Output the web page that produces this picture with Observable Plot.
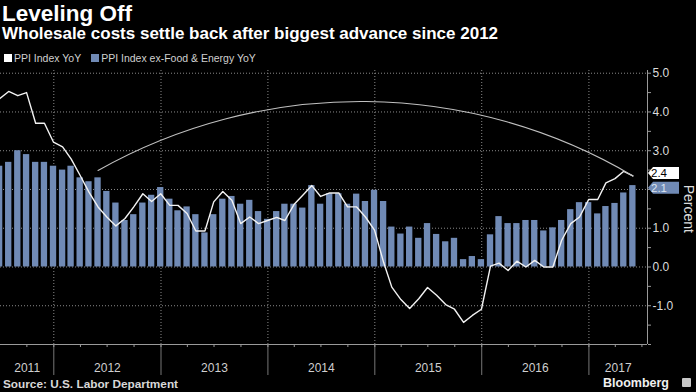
<!DOCTYPE html>
<html>
<head>
<meta charset="utf-8">
<script src="https://cdn.jsdelivr.net/npm/d3@7"></script>
<script src="https://cdn.jsdelivr.net/npm/@observablehq/plot@0.6"></script>
<style>
  html, body { margin: 0; padding: 0; background: #000; }
  body { width: 696px; height: 392px; overflow: hidden; position: relative; font-family: "Liberation Sans", Arial, sans-serif; color: #fff; }
  .abs { position: absolute; white-space: nowrap; }
  #title { left: 2px; top: 3px; font-weight: bold; font-size: 22.5px; line-height: 22px; }
  #subtitle { left: 2px; top: 26px; font-weight: bold; font-size: 17px; line-height: 16px; }
  #legend { left: 4px; top: 53px; font-size: 10.5px; line-height: 11px; color: #d0d0d0; }
  #legend span.sw { display: inline-block; width: 8px; height: 8px; margin-right: 2px; vertical-align: -0px; }
  #legend span.item { margin-right: 10px; }
  #chart { left: 0; top: 64px; }
  #source { left: 3px; top: 378px; font-weight: bold; font-size: 11.8px; line-height: 12px; color: #d8d8d8; }
  #brand { right: 27px; top: 376px; font-weight: bold; font-size: 12.5px; line-height: 14px; color: #f0f0f0; }
  #icon { left: 682px; top: 378px; width: 9px; height: 9px; background: #c8c8c8; border-radius: 1px; }
</style>
</head>
<body>
<div id="title" class="abs">Leveling Off</div>
<div id="subtitle" class="abs">Wholesale costs settle back after biggest advance since 2012</div>
<div id="legend" class="abs"></div>
<div id="chart" class="abs"></div>
<div id="source" class="abs">Source: U.S. Labor Department</div>
<div id="brand" class="abs">Bloomberg</div>
<div id="icon" class="abs"></div>
<script>
// ---- Data (monthly, June 2011 – May 2017, year-over-year %) ----
const firstMonth = "2011-06";
const lastMonth = "2017-05";

const ppiYoY = [
  4.34, 4.53, 4.42, 4.50, 3.71, 3.71, 3.22,                          // 2011 Jun-Dec
  3.10, 2.79, 2.36, 1.93, 1.55, 1.29, 1.06, 1.25, 1.55, 1.89, 1.69, 1.89, // 2012
  1.59, 1.59, 1.38, 0.93, 0.93, 1.68, 1.95, 1.72, 1.12, 1.29, 1.12, 1.20, // 2013
  1.28, 1.20, 1.61, 1.85, 2.10, 1.82, 1.91, 1.91, 1.55, 1.55, 1.29, 0.95, // 2014
  0.12, -0.52, -0.84, -1.07, -0.82, -0.53, -0.73, -0.97, -1.09, -1.43, -1.25, -1.09, // 2015
  0.02, 0.10, -0.09, 0.15, 0.00, 0.17, 0.00, 0.00, 0.69, 1.12, 1.29, 1.74, // 2016
  1.74, 2.17, 2.28, 2.47, 2.35                                         // 2017 Jan-May
];

const coreYoY = [
  2.60, 2.70, 3.00, 2.90, 2.70, 2.70, 2.60,                          // 2011 Jun-Dec
  2.50, 2.60, 2.30, 2.20, 2.30, 1.95, 1.65, 1.20, 1.35, 1.65, 1.85, 2.05, // 2012
  1.75, 1.45, 1.55, 1.35, 0.88, 1.35, 1.75, 1.82, 1.62, 1.72, 1.43, 1.23, // 2013
  1.43, 1.62, 1.62, 1.52, 2.10, 1.62, 1.89, 1.89, 1.62, 1.88, 1.69, 1.98, // 2014
  1.69, 1.03, 0.85, 1.03, 0.74, 1.12, 0.84, 0.65, 0.74, 0.19, 0.27, 0.19, // 2015
  0.83, 1.30, 1.12, 1.12, 1.20, 1.20, 0.93, 1.01, 1.20, 1.48, 1.66, 1.66, // 2016
  1.37, 1.56, 1.64, 1.91, 2.10                                         // 2017 Jan-May
];

const seriesNames = ["PPI Index YoY", "PPI Index ex-Food & Energy YoY"];
const yearLabels = ["2011", "2012", "2013", "2014", "2015", "2016", "2017"];
const yMajorTicks = [-1, 0, 1, 2, 3, 4, 5];
const yLabelTicks = [-1, 0, 1, 3, 4, 5];           // 2.0 is hidden behind the value tags
const yMinorTicks = [-2, -1.5, -0.5, 0.5, 1.5, 2.5, 3.5, 4.5];
const axisTitle = "Percent";

// Annotation arc: from mid-2012 level to the latest reading
const arcStart = { date: "2012-05-31", value: 2.49 };

// view window
const xStart = new Date(Date.UTC(2011, 6, 3));
const xEnd = new Date(Date.UTC(2017, 6, 20));
const yDomain = [-2, 5.07];

// colours
const barColor = "#708ab5";
const lineColor = "#f2f2f2";

// ---- Build rows (dates = month end) ----
const parse = d3.utcParse("%Y-%m");
const monthStarts = d3.utcMonth.range(parse(firstMonth), d3.utcMonth.offset(parse(lastMonth), 1));
const rows = monthStarts.map((m, i) => ({
  date: d3.utcDay.offset(d3.utcMonth.offset(m, 1), -1),
  ppi: ppiYoY[i],
  core: coreYoY[i]
}));
const last = rows[rows.length - 1];
const halfBar = 10.8 * 864e5;

const yearStarts = yearLabels.map(y => new Date(Date.UTC(+y, 0, 1)));
const yearText = yearLabels.map((y, i) => {
  const a = new Date(Math.max(+yearStarts[i], +xStart));
  const b = new Date(Math.min(Date.UTC(+y + 1, 0, 1), +xEnd));
  return { label: y, mid: new Date((+a + +b) / 2) };
});
const quarterTicks = d3.utcMonth.every(3).range(xStart, xEnd);

const arcData = [{
  x1: new Date(arcStart.date + "T00:00Z"), y1: arcStart.value,
  x2: last.date, y2: last.ppi
}];

// tags: nudge (px) keeps the two stacked tags from colliding
const valueTags = [
  { value: last.core, text: last.core.toFixed(1), fill: barColor, color: "#dde4ef", nudge: 2.6 },
  { value: last.ppi, text: last.ppi.toFixed(1), fill: "#ffffff", color: "#000000", nudge: -2.4 }
];

// ---- Legend ----
const legend = document.getElementById("legend");
[["#ffffff", seriesNames[0]], [barColor, seriesNames[1]]].forEach(([c, t]) => {
  const item = document.createElement("span");
  item.className = "item";
  const sw = document.createElement("span");
  sw.className = "sw";
  sw.style.background = c;
  item.appendChild(sw);
  item.appendChild(document.createTextNode(t));
  legend.appendChild(item);
});

// ---- Chart ----
const chart = Plot.plot({
  width: 696,
  height: 312,
  marginLeft: 0,
  marginRight: 49,
  marginTop: 6,
  marginBottom: 32,
  style: { background: "transparent", color: "#d0d0d0", fontFamily: "Liberation Sans, Arial, sans-serif", fontSize: "12px", overflow: "visible" },
  x: { type: "utc", domain: [xStart, xEnd] },
  y: { domain: yDomain },
  marks: [
    Plot.gridY({ ticks: yMajorTicks, stroke: "#8a8a8a", strokeOpacity: 1, strokeDasharray: "1,2" }),
    Plot.gridX({ ticks: yearStarts.slice(1), stroke: "#8a8a8a", strokeOpacity: 1, strokeDasharray: "1,2" }),
    Plot.rectY(rows, {
      x1: d => new Date(+d.date - halfBar),
      x2: d => new Date(+d.date + halfBar),
      y1: 0, y2: "core",
      fill: barColor
    }),
    Plot.line(rows, { x: "date", y: "ppi", stroke: lineColor, strokeWidth: 1.4 }),
    Plot.arrow(arcData, { x1: "x1", y1: "y1", x2: "x2", y2: "y2", bend: 30, headLength: 0, stroke: "#c0c0c0", strokeWidth: 1.1 }),
    Plot.ruleY([-2], { stroke: "#9a9a9a" }),
    Plot.ruleX([xEnd], { y1: yDomain[0], y2: yDomain[1], stroke: "#9a9a9a" }),
    Plot.axisX({ ticks: yearStarts.slice(1), tickSize: 31, tickFormat: () => null, stroke: "#777" }),
    Plot.axisX({ ticks: quarterTicks, tickSize: 3, tickFormat: () => null, stroke: "#9a9a9a" }),
    Plot.text(yearText, { x: "mid", y: yDomain[0], dy: 24, text: "label", fill: "#cfcfcf", fontSize: 12 }),
    Plot.axisY({
      anchor: "right", ticks: yLabelTicks, tickSize: 3, tickPadding: 2,
      tickFormat: d => d.toFixed(1),
      stroke: "#9a9a9a", fill: "#dcdcdc", label: null, fontSize: 12
    }),
    Plot.axisY({
      anchor: "right", ticks: yMinorTicks.concat([2]), tickSize: 3,
      tickFormat: () => null, stroke: "#9a9a9a", label: null
    }),
    Plot.text([axisTitle], { x: xEnd, y: 1.5, dx: 41, rotate: 90, text: d => d, fill: "#dcdcdc", fontSize: 14 }),
    (index, scales) => {
      const g = d3.create("svg:g").attr("text-anchor", "start");
      const x0 = scales.x(xEnd) + 1;
      for (const t of valueTags) {
        const y = scales.y(t.value) + t.nudge;
        g.append("path")
          .attr("d", `M${x0},${y} L${x0 + 5},${y - 6} L${x0 + 31},${y - 6} L${x0 + 31},${y + 6} L${x0 + 5},${y + 6} Z`)
          .attr("fill", t.fill);
        g.append("text")
          .attr("x", x0 + 3).attr("y", y + 4)
          .attr("text-anchor", "start")
          .attr("fill", t.color)
          .attr("font-size", 11.5)
          .text(t.text);
      }
      return g.node();
    }
  ]
});
document.getElementById("chart").appendChild(chart);
</script>
</body>
</html>
